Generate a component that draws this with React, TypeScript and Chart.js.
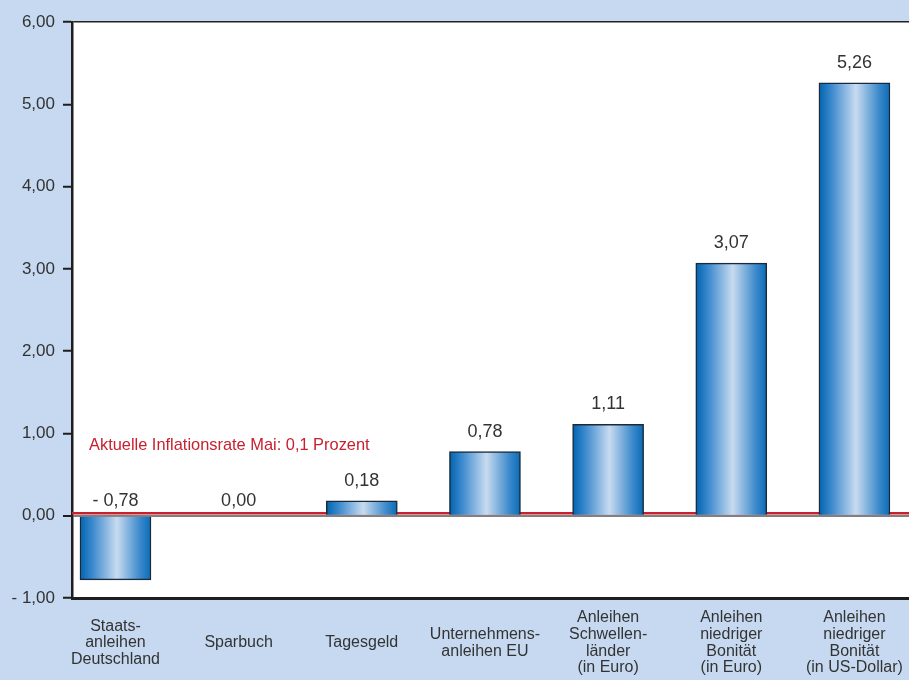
import React, { useEffect, useRef } from "react";
import { Chart, registerables } from "chart.js";

Chart.register(...registerables);

// ---- data ----
const categories: string[][] = [
  ["Staats-", "anleihen", "Deutschland"],
  ["Sparbuch"],
  ["Tagesgeld"],
  ["Unternehmens-", "anleihen EU"],
  ["Anleihen", "Schwellen-", "länder", "(in Euro)"],
  ["Anleihen", "niedriger", "Bonität", "(in Euro)"],
  ["Anleihen", "niedriger", "Bonität", "(in US-Dollar)"],
];
const returns: number[] = [-0.78, 0.0, 0.18, 0.78, 1.11, 3.07, 5.26];
const yMin = -1;
const yMax = 6;
const yStep = 1;
const inflationText = "Aktuelle Inflationsrate Mai: 0,1 Prozent";
const inflationLineValue = 0.03;

// ---- styles ----
const BG = "#c6d9f0";
const TEXT = "#333333";
const RED = "#c8202f";
const FONT = "'Liberation Sans', Arial, sans-serif";

const fmt = (v: number) =>
  (v < 0 ? "- " : "") + Math.abs(v).toFixed(2).replace(".", ",");

const plotBgPlugin = {
  id: "plotBg",
  beforeDraw(chart: any) {
    const { ctx, chartArea } = chart;
    ctx.save();
    ctx.fillStyle = "#ffffff";
    ctx.fillRect(chartArea.left, chartArea.top, chartArea.right - chartArea.left, chartArea.bottom - chartArea.top);
    ctx.restore();
  },
};

const inflationPlugin = {
  id: "inflation",
  beforeDatasetsDraw(chart: any) {
    const { ctx, chartArea, scales } = chart;
    const y = scales.y.getPixelForValue(inflationLineValue);
    const y0 = scales.y.getPixelForValue(0);
    ctx.save();
    ctx.strokeStyle = RED;
    ctx.lineWidth = 2.5;
    ctx.beginPath();
    ctx.moveTo(chartArea.left, y);
    ctx.lineTo(chartArea.right, y);
    ctx.stroke();
    ctx.fillStyle = RED;
    ctx.font = `16.4px ${FONT}`;
    ctx.textAlign = "left";
    ctx.textBaseline = "middle";
    ctx.fillText(inflationText, chartArea.left + 17, y0 - 70);
    ctx.restore();
  },
};

const valueLabelPlugin = {
  id: "valueLabels",
  afterDatasetsDraw(chart: any) {
    const { ctx, scales } = chart;
    const meta = chart.getDatasetMeta(0);
    const y0 = scales.y.getPixelForValue(0);
    ctx.save();
    ctx.fillStyle = TEXT;
    ctx.font = `18px ${FONT}`;
    ctx.textAlign = "center";
    ctx.textBaseline = "middle";
    meta.data.forEach((bar: any, i: number) => {
      const v = returns[i];
      const y = v > 0 ? bar.y - 20 : y0 - 14.5;
      ctx.fillText(fmt(v), bar.x, y);
    });
    ctx.restore();
  },
};

export default function App() {
  const ref = useRef<HTMLCanvasElement | null>(null);

  useEffect(() => {
    document.body.style.margin = "0";
    document.body.style.background = BG;
    const canvas = ref.current!;
    const barWidth = 71;
    const chart = new Chart(canvas, {
      type: "bar",
      data: {
        datasets: [
          {
            data: returns.map((v, i) => ({ x: i, y: v })),
            barThickness: barWidth,
            borderColor: "#1b2a3a",
            borderWidth: 1.5,
            backgroundColor: (c: any) => {
              const chartObj = c.chart;
              const xs = chartObj.scales?.x;
              if (!xs || c.dataIndex === undefined) return "#3f8ccc";
              const cx = xs.getPixelForValue(c.dataIndex);
              if (!Number.isFinite(cx)) return "#3f8ccc";
              const g = chartObj.ctx.createLinearGradient(cx - barWidth / 2, 0, cx + barWidth / 2, 0);
              g.addColorStop(0, "#0064b0");
              g.addColorStop(0.18, "#3d8ace");
              g.addColorStop(0.52, "#c8dbf0");
              g.addColorStop(0.85, "#3a88cb");
              g.addColorStop(1, "#0a6cb6");
              return g;
            },
          } as any,
        ],
      },
      options: {
        responsive: false,
        animation: false,
        maintainAspectRatio: false,
        layout: { padding: { top: 22, right: 0, left: 0, bottom: 0 } },
        plugins: {
          legend: { display: false },
          tooltip: { enabled: false },
        },
        scales: {
          x: {
            type: "linear",
            offset: false,
            min: -0.353,
            max: 6.443,
            afterBuildTicks: (scale: any) => {
              scale.ticks = categories.map((_, i) => ({ value: i }));
            },
            afterFit: (scale: any) => {
              scale.height = 82;
              scale.paddingLeft = 0;
              scale.paddingRight = 0;
            },
            grid: { display: true, offset: false, drawOnChartArea: false, drawTicks: false },
            border: { display: true, color: "#1e1e1e", width: 3 },
            ticks: {
              autoSkip: false,
              maxRotation: 0,
              minRotation: 0,
              padding: 20,
              crossAlign: "center",
              color: TEXT,
              font: { family: FONT, size: 16, lineHeight: 1.04 },
              callback: (v: any) => categories[Math.round(Number(v))] ?? "",
            },
          },
          y: {
            min: yMin,
            max: yMax,
            afterFit: (scale: any) => {
              scale.width = 72;
            },
            grid: {
              drawOnChartArea: true,
              color: (c: any) =>
                c.tick?.value === 0 ? "#808080" : c.tick?.value === yMax ? "#222222" : "rgba(0,0,0,0)",
              lineWidth: (c: any) => (c.tick?.value === 0 ? 2 : 1.5),
              tickColor: "#1e1e1e",
              tickWidth: 2,
              tickLength: 9,
            },
            border: { display: true, color: "#1e1e1e", width: 2.5 },
            ticks: {
              stepSize: yStep,
              padding: 8,
              color: TEXT,
              font: { family: FONT, size: 17 },
              callback: (v: any) => fmt(Number(v)),
            },
          },
        },
      } as any,
      plugins: [plotBgPlugin, inflationPlugin, valueLabelPlugin],
    });
    return () => chart.destroy();
  }, []);

  return (
    <div style={{ position: "fixed", left: 0, top: 0, width: 909, height: 680, background: BG }}>
      <canvas ref={ref} width={909} height={680} style={{ display: "block" }} />
    </div>
  );
}
